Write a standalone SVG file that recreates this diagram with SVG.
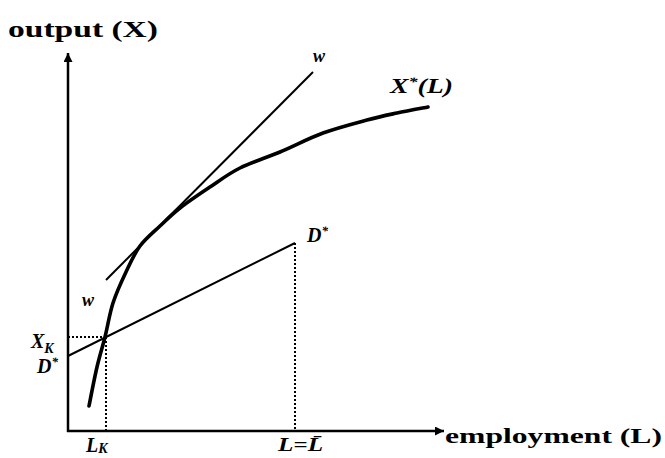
<svg xmlns="http://www.w3.org/2000/svg" width="665" height="458" viewBox="0 0 665 458">
<style>
.ax{fill:none;stroke:#000;stroke-width:2.5}
.ln{fill:none;stroke:#000;stroke-width:2}
.cv{fill:none;stroke:#000;stroke-width:3.6;stroke-linecap:round;stroke-linejoin:round}
.dt{fill:none;stroke:#000;stroke-width:2;stroke-dasharray:2 2}
.big{font-family:"Liberation Serif","DejaVu Serif",serif;font-weight:bold;fill:#000}
.it{font-family:"Liberation Serif","DejaVu Serif",serif;font-weight:bold;font-style:italic;fill:#000}
</style>
<defs>
<marker id="ah" viewBox="0 0 10 10" refX="10" refY="5" markerWidth="12" markerHeight="9" markerUnits="userSpaceOnUse" orient="auto">
<path d="M0,0 L10,5 L0,10 Z" fill="#000"/>
</marker>
</defs>
<rect width="665" height="458" fill="#fff"/>
<g id="connectors">
<path id="y-axis" class="ax" d="M68,432 V53" marker-end="url(#ah)"/>
<path id="x-axis" class="ax" d="M67,431 H444" marker-end="url(#ah)"/>
<path id="tangent-w" class="ln" d="M106,280 L313,72"/>
<path id="line-D" class="ln" d="M68,356 L295,243"/>
<path class="dt" d="M68,337 H106 M106,337 V431 M295,243 V431"/>
<path id="curve-X" class="cv" d="M89,406 C90.3,399.5 94.3,378.5 97,367 C99.7,355.5 102.3,347.7 105,337 C107.7,326.3 109.5,313.8 113,303 C116.5,292.2 121.5,281.5 126,272 C130.5,262.5 134.3,253.7 140,246 C145.7,238.3 153.3,232.3 160,226 C166.7,219.7 171.7,214.5 180,208 C188.3,201.5 200,193.7 210,187 C220,180.3 228.3,173.8 240,168 C251.7,162.2 266.2,157.8 280,152 C293.8,146.2 308.5,138.3 323,133 C337.5,127.7 354.7,123.3 367,120 C379.3,116.7 386.8,115.2 397,113 C407.2,110.8 422.8,108 428,107"/>
</g>
<g id="axis-labels">
<text class="big" x="8" y="37" font-size="24" textLength="150" lengthAdjust="spacingAndGlyphs">output (X)</text>
<text class="big" x="445" y="443" font-size="22" textLength="217" lengthAdjust="spacingAndGlyphs">employment (L)</text>
</g>
<g id="labels">
<text class="it" x="313" y="62" font-size="18">w</text>
<text class="it" x="82" y="306" font-size="18">w</text>
<text class="it" x="390" y="93" font-size="20" textLength="63" lengthAdjust="spacingAndGlyphs">X<tspan font-size="13" dy="-7">*</tspan><tspan dy="7">(L)</tspan></text>
<text class="it" x="307" y="242" font-size="20">D<tspan font-size="13" dy="-7">*</tspan></text>
<text class="it" x="37" y="373" font-size="20">D<tspan font-size="13" dy="-7">*</tspan></text>
<text class="it" x="31" y="348" font-size="20">X<tspan font-size="14" dy="5">K</tspan></text>
<text class="it" x="86" y="452" font-size="20">L<tspan font-size="14" dy="1">K</tspan></text>
<text class="it" x="278" y="451" font-size="19" textLength="45" lengthAdjust="spacingAndGlyphs">L=L̄</text>
</g>
</svg>
